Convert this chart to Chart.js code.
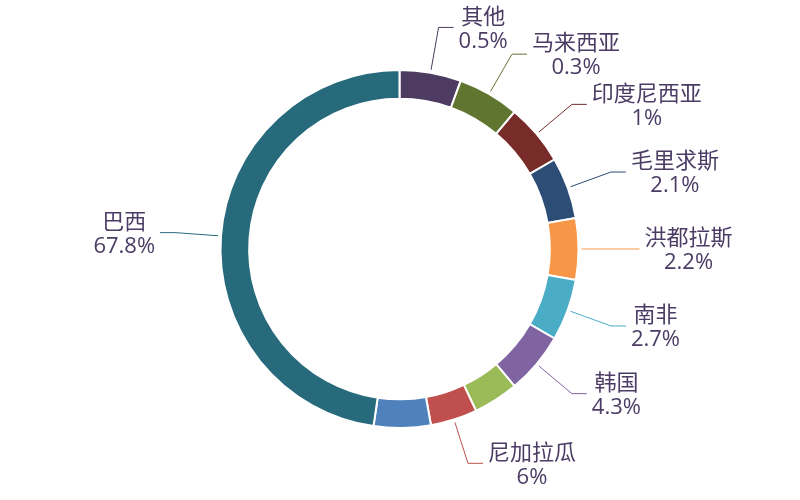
<!DOCTYPE html>
<html>
<head>
<meta charset="utf-8">
<script src="https://cdn.jsdelivr.net/npm/chart.js@4.4.1/dist/chart.umd.min.js"></script>
<style>
  html, body { margin: 0; padding: 0; background: #ffffff; }
  #wrap { width: 800px; height: 500px; }
</style>
</head>
<body>
<div id="wrap"><canvas id="pieChart" width="800" height="500"></canvas></div>
<script>
  // categories, clockwise from 12 o'clock (null = label not shown in the chart)
  let countries = ['其他', '马来西亚', '印度尼西亚', '毛里求斯', '洪都拉斯', '南非', '韩国', null, '尼加拉瓜', null, '巴西'];
  // share in percent
  let shares = [0.5, 0.3, 1, 2.1, 2.2, 2.7, 4.3, 5.8, 6, 7.3, 67.8];
  let sliceColors = ['#4D3B62', '#5F7530', '#772C2A', '#2C4D75', '#F79646', '#4BACC6', '#8064A2', '#9BBB59', '#C0504D', '#4F81BD', '#276A7C'];
  let minAngle = 20; // degrees, small slices are widened to this

  // same idea as echarts minAngle: small slices get minAngle, the rest share what is left
  function arcSizes(values) {
    let sum = 0;
    for (let i = 0; i < values.length; i++) sum += values[i];
    let unit = 360 / sum;
    let rest = 360;
    let largerSum = 0;
    let angles = [];
    for (let i = 0; i < values.length; i++) {
      let a = values[i] * unit;
      if (a < minAngle) {
        a = minAngle;
        rest -= minAngle;
      } else {
        largerSum += values[i];
      }
      angles.push(a);
    }
    if (rest < 360 && largerSum > 0) {
      unit = rest / largerSum;
      for (let i = 0; i < values.length; i++) {
        if (angles[i] !== minAngle) angles[i] = values[i] * unit;
      }
    }
    return angles;
  }

  let labelFont = '22px "Open Sans", "Noto Sans CJK SC", sans-serif';
  let labelColor = '#4A3C64';

  // draws the leader lines and the two-line labels outside the ring
  let outsideLabels = {
    id: 'outsideLabels',
    afterDatasetsDraw(chart) {
      let ctx = chart.ctx;
      let meta = chart.getDatasetMeta(0);
      ctx.save();
      ctx.font = labelFont;
      for (let i = 0; i < meta.data.length; i++) {
        if (countries[i] == null) continue;
        let arc = meta.data[i];
        let mid = (arc.startAngle + arc.endAngle) / 2;
        let cx = arc.x, cy = arc.y;
        let r0 = arc.outerRadius + 3;
        let r1 = arc.outerRadius + 46;
        let x0 = cx + Math.cos(mid) * r0, y0 = cy + Math.sin(mid) * r0;
        let x1 = cx + Math.cos(mid) * r1, y1 = cy + Math.sin(mid) * r1;
        let side = Math.cos(mid) >= 0 ? 1 : -1;
        let x2 = x1 + side * 15;

        ctx.strokeStyle = sliceColors[i];
        ctx.lineWidth = 1;
        ctx.beginPath();
        ctx.moveTo(x0, y0);
        ctx.lineTo(x1, y1);
        ctx.lineTo(x2, y1);
        ctx.stroke();

        let line1 = countries[i];
        let line2 = shares[i] + '%';
        let w = Math.max(ctx.measureText(line1).width, ctx.measureText(line2).width);
        let tx = x2 + side * (5 + w / 2);
        ctx.fillStyle = labelColor;
        ctx.textAlign = 'center';
        ctx.textBaseline = 'middle';
        ctx.fillText(line1, tx, y1 - 10);
        ctx.fillText(line2, tx, y1 + 14);
      }
      ctx.restore();
    }
  };

  let ctx = document.getElementById('pieChart').getContext('2d');
  let myPie = new Chart(ctx, {
    type: 'doughnut',
    data: {
      labels: countries.map(function (c) { return c == null ? '' : c; }),
      datasets: [{
        data: arcSizes(shares),
        backgroundColor: sliceColors,
        borderColor: '#ffffff',
        borderWidth: 2,
        hoverOffset: 0,
        hoverBorderWidth: 2
      }]
    },
    options: {
      responsive: false,
      animation: false,
      radius: 179,
      cutout: '84%',
      rotation: 0,
      layout: { padding: { left: 0, right: 1, top: 0, bottom: 2 } },
      plugins: {
        legend: { display: false },
        tooltip: { enabled: false }
      }
    },
    plugins: [outsideLabels]
  });
</script>
</body>
</html>
